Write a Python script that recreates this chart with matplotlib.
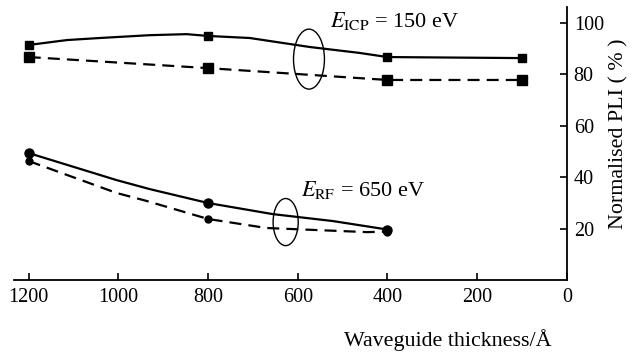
import matplotlib
matplotlib.use("Agg")
import matplotlib.pyplot as plt
from matplotlib.patches import Ellipse

# marker points (thickness in Angstrom, normalised PLI in %)
thick_icp = [1200, 800, 400, 100]
pli_icp_solid = [91.3, 94.8, 86.6, 86.2]
pli_icp_dash = [86.6, 82.3, 77.7, 77.7]

thick_rf = [1200, 800, 400]
pli_rf_solid = [49.3, 29.9, 19.6]
pli_rf_dash = [46.2, 23.7, 18.8]

# smooth curve paths
curve_icp_x = [1200, 1115, 1042, 930, 848, 800, 707, 573, 462, 400, 100]
curve_icp_y = [91.3, 93.2, 94.0, 95.1, 95.5, 94.8, 94.0, 90.5, 88.2, 86.6, 86.2]
curve_rf_x = [1200, 1004, 930, 800, 656, 522, 400]
curve_rf_y = [49.3, 38.8, 35.3, 29.9, 25.6, 22.9, 19.6]
curve_rf_dash_x = [1200, 1004, 937, 892, 800, 670, 446, 400]
curve_rf_dash_y = [46.2, 33.8, 30.7, 28.4, 23.7, 20.2, 18.6, 18.8]

xticks = [1200, 1000, 800, 600, 400, 200, 0]
yticks = [20, 40, 60, 80, 100]

plt.rcParams["font.family"] = ["Liberation Serif", "DejaVu Serif"]
plt.rcParams["mathtext.fontset"] = "stix"

fig = plt.figure(figsize=(6.34, 3.56), dpi=100)
ax = fig.add_axes([0.022, 0.2135, 0.872, 0.7665])

lw = 1.6
dash = (0, (5.4, 3.2))

ax.plot(curve_icp_x, curve_icp_y, color="black", lw=lw)
ax.plot(thick_icp, pli_icp_dash, color="black", lw=lw, linestyle=dash)
ax.plot(thick_icp, pli_icp_solid, "s", color="black", ms=5.5)
ax.plot(thick_icp, pli_icp_dash, "s", color="black", ms=7.5)

ax.plot(curve_rf_x, curve_rf_y, color="black", lw=lw)
ax.plot(curve_rf_dash_x, curve_rf_dash_y, color="black", lw=lw, linestyle=dash)
ax.plot(thick_rf, pli_rf_solid, "o", color="black", ms=6.5)
ax.plot(thick_rf, pli_rf_dash, "o", color="black", ms=5)

ax.add_patch(Ellipse((575, 85.8), 69, 23.3, fill=False, color="black", lw=1.0))
ax.add_patch(Ellipse((627, 22.5), 56, 18.3, fill=False, color="black", lw=1.0))

ax.text(385, 100.5, r"$E_{\rm ICP}$ = 150 eV", fontsize=16, va="center", ha="center")
ax.text(454, 35.0, r"$E_{\rm RF}$ = 650 eV", fontsize=16, va="center", ha="center")

ax.set_xlim(1233, 0)
ax.set_ylim(0, 106)
ax.set_xticks(xticks)
ax.set_yticks(yticks)
ax.spines["left"].set_visible(False)
ax.spines["top"].set_visible(False)
ax.spines["right"].set_linewidth(1.3)
ax.spines["bottom"].set_linewidth(1.3)
ax.yaxis.tick_right()
ax.tick_params(axis="x", direction="in", length=5, width=1.2, labelsize=14.5, pad=6)
ax.tick_params(axis="y", direction="in", length=5, width=1.2, labelsize=14.5, pad=5)

fig.text(448 / 634, 1 - 340 / 356, "Waveguide thickness/Å", fontsize=15.8, ha="center", va="center")
fig.text(619 / 634, 1 - 134 / 356, "Normalised PLI ( % )", fontsize=15.8, ha="center", va="center", rotation=90)

fig.savefig("out.png", dpi=100)
